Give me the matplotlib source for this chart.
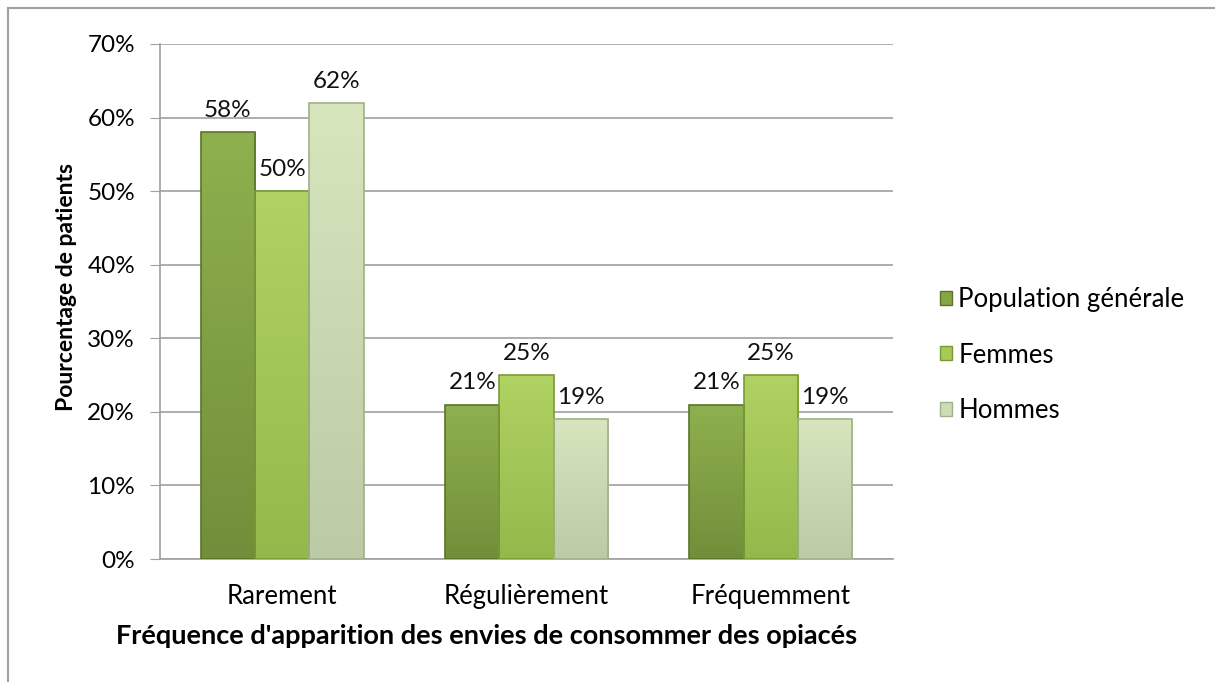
import numpy as np
import matplotlib.pyplot as plt
from matplotlib.patches import Patch
from matplotlib.colors import LinearSegmentedColormap

plt.rcParams['font.family'] = ['Lato', 'DejaVu Sans']

categories = ['Rarement', 'Régulièrement', 'Fréquemment']
series = ['Population générale', 'Femmes', 'Hommes']
pop_gen = [58, 21, 21]
femmes = [50, 25, 25]
hommes = [62, 19, 19]
values = [pop_gen, femmes, hommes]

# (bas, haut) pour le dégradé de chaque série
grads = [('#718f3a', '#8fb04e'), ('#94b94b', '#b0d262'), ('#bccaa5', '#d8e6be')]
legend_colors = ['#86a545', '#a6cb58', '#cddcb2']
edges = ['#5a7428', '#7a9a36', '#9fb08a']

fig = plt.figure(figsize=(12.15, 6.82), dpi=100)
ax = fig.add_axes([160 / 1215, 1 - 559 / 682, 733 / 1215, 515 / 682])

x = np.arange(len(categories))
w = 0.222
grad_img = np.linspace(0, 1, 256).reshape(-1, 1)
for i, (vals, g, ec) in enumerate(zip(values, grads, edges)):
    pos = x + (i - 1) * w
    bars = ax.bar(pos, vals, width=w, color=g[1], edgecolor=ec, linewidth=1.2, zorder=4)
    cmap = LinearSegmentedColormap.from_list(f'g{i}', list(g))
    for b in bars:
        x0, y0 = b.get_x(), b.get_y()
        im = ax.imshow(grad_img, extent=(x0, x0 + b.get_width(), y0, y0 + b.get_height()),
                       cmap=cmap, aspect='auto', origin='lower', zorder=3)
        im.set_clip_path(b)
        b.set_facecolor('none')
    for p, v in zip(pos, vals):
        ax.annotate(f'{v}%', (p, v), xytext=(0, 8), textcoords='offset points',
                    ha='center', va='bottom', fontsize=17.5, color='#111111')

ax.set_xlim(-0.5, 2.5)
ax.set_ylim(0, 70)
ax.set_yticks(range(0, 71, 10))
ax.set_yticklabels([f'{t}%' for t in range(0, 71, 10)], fontsize=17.5)
ax.set_xticks(x)
ax.set_xticklabels(categories, fontsize=18.5)
ax.yaxis.grid(True, color='#a0a0a0', linewidth=1.2, zorder=0)
ax.set_axisbelow(True)
for s in ['top', 'right']:
    ax.spines[s].set_visible(False)
for s in ['left', 'bottom']:
    ax.spines[s].set_color('#a0a0a0')
    ax.spines[s].set_linewidth(1.2)
ax.tick_params(axis='y', length=7, color='#a0a0a0', pad=11)
ax.tick_params(axis='x', length=0, pad=18)

ax.set_ylabel('Pourcentage de patients', fontsize=16.5, fontweight='bold')
ax.yaxis.set_label_coords(-0.113, 0.528)
ax.set_xlabel("Fréquence d'apparition des envies de consommer des opiacés",
              fontsize=19.5, fontweight='bold')
ax.xaxis.set_label_coords(0.446, -0.127)

handles = [Patch(facecolor=c, edgecolor=e, label=n)
           for c, e, n in zip(legend_colors, edges, series)]
ax.legend(handles=handles, loc='center left', bbox_to_anchor=(1.064, 0.396), frameon=False,
          fontsize=18.5, handlelength=0.46, handleheight=0.46, handletextpad=0.25,
          labelspacing=1.2, borderaxespad=0, borderpad=0)

# cadre du graphique (haut et gauche)
fig.add_artist(plt.Line2D([8 / 1215, 1], [1 - 8 / 682, 1 - 8 / 682],
                          transform=fig.transFigure, color='#a0a0a0', lw=1.5))
fig.add_artist(plt.Line2D([8 / 1215, 8 / 1215], [0, 1 - 8 / 682],
                          transform=fig.transFigure, color='#a0a0a0', lw=1.5))

fig.savefig('out.png', dpi=100)
